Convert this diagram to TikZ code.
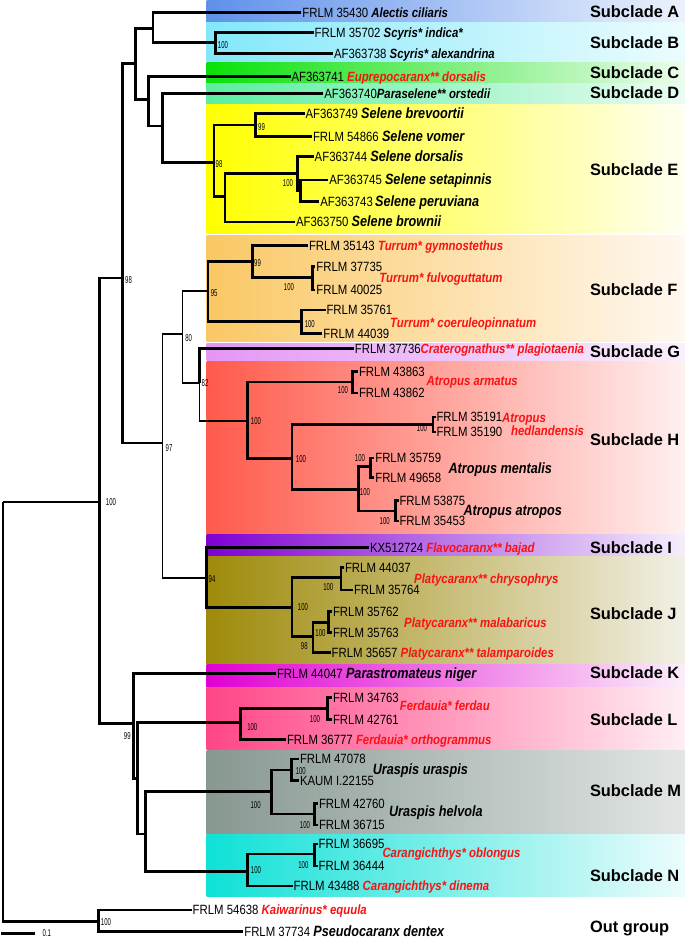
\documentclass[tikz,border=0pt]{standalone}
\usepackage{fontspec}
\setmainfont{Liberation Sans}
\newfontfamily\accf[FakeStretch=0.85]{Liberation Sans}
\newfontfamily\bsf[FakeStretch=0.6]{Liberation Sans}
\newfontfamily\subf{Liberation Sans}
\definecolor{spred}{RGB}{250,18,18}
\definecolor{bAl}{RGB}{95,145,235}\definecolor{bAr}{RGB}{236,241,252}
\definecolor{bBl}{RGB}{130,232,250}\definecolor{bBr}{RGB}{236,252,254}
\definecolor{bCl}{RGB}{10,225,10}\definecolor{bCr}{RGB}{236,252,236}
\definecolor{bDl}{RGB}{90,238,160}\definecolor{bDr}{RGB}{234,252,242}
\definecolor{bEl}{RGB}{255,255,0}\definecolor{bEr}{RGB}{255,255,242}
\definecolor{bFl}{RGB}{250,200,100}\definecolor{bFr}{RGB}{255,248,240}
\definecolor{bGl}{RGB}{228,150,245}\definecolor{bGr}{RGB}{250,240,252}
\definecolor{bHl}{RGB}{255,90,75}\definecolor{bHr}{RGB}{255,240,240}
\definecolor{bIl}{RGB}{128,0,210}\definecolor{bIr}{RGB}{245,238,252}
\definecolor{bJl}{RGB}{158,138,10}\definecolor{bJr}{RGB}{242,240,230}
\definecolor{bKl}{RGB}{225,0,210}\definecolor{bKr}{RGB}{252,238,250}
\definecolor{bLl}{RGB}{255,70,135}\definecolor{bLr}{RGB}{255,238,244}
\definecolor{bMl}{RGB}{135,152,145}\definecolor{bMr}{RGB}{226,230,228}
\definecolor{bNl}{RGB}{15,225,215}\definecolor{bNr}{RGB}{236,252,252}
\newcommand\spB[1]{{\bfseries\itshape #1}}
\newcommand\spL[1]{{\fontsize{14.9}{17}\selectfont\bfseries\itshape #1}}
\newcommand\spR[1]{{\color{spred}\bfseries\itshape #1}}
\tikzset{
  br/.style={line width=2.6pt},
  brthin/.style={line width=1.7pt},
  leaf/.style={anchor=west, inner sep=1pt, outer sep=0pt, font=\accf\fontsize{13.4}{15}\selectfont, text height=9.6pt, text depth=0pt},
  spec/.style={anchor=west, inner sep=0pt, font=\accf\fontsize{13.4}{15}\selectfont, text height=9.6pt, text depth=0pt},
  bs/.style={inner sep=0pt, font=\bsf\fontsize{10}{11}\selectfont, text height=7.1pt, text depth=0pt},
  sub/.style={anchor=west, inner sep=0pt, font=\subf\bfseries\fontsize{16.4}{18}\selectfont, text height=11.7pt, text depth=0pt},
}
\begin{document}
\begin{tikzpicture}[x=1pt,y=-1pt]
\useasboundingbox (0,0) rectangle (685,940);
% ---------- coloured bands ----------
\shade[left color=bAl,right color=bAr] (206.6,0) rectangle (685,22);
\shade[left color=bBl,right color=bBr] (206.6,22.5) rectangle (685,61);
\shade[left color=bCl,right color=bCr] (206.6,62) rectangle (685,83);
\shade[left color=bDl,right color=bDr] (206.6,83) rectangle (685,104);
\shade[left color=bEl,right color=bEr] (206.6,104) rectangle (685,233.5);
\shade[left color=bFl,right color=bFr] (206.6,235) rectangle (685,341.5);
\shade[left color=bGl,right color=bGr] (206.6,343) rectangle (685,360.3);
\shade[left color=bHl,right color=bHr] (206.6,361.5) rectangle (685,534);
\shade[left color=bIl,right color=bIr] (206.6,534) rectangle (685,556.5);
\shade[left color=bJl,right color=bJr] (206.6,556.5) rectangle (685,664);
\shade[left color=bKl,right color=bKr] (206.6,664) rectangle (685,687);
\shade[left color=bLl,right color=bLr] (206.6,687.5) rectangle (685,749);
\shade[left color=bMl,right color=bMr] (206.6,750) rectangle (685,834);
\shade[left color=bNl,right color=bNr] (206.6,834.5) rectangle (685,896.5);
% ---------- internal nodes ----------
\coordinate (R) at (3,502);
\coordinate (N100) at (99.6,502);
\coordinate (N98) at (122.3,278);
\coordinate (NAE) at (135.4,63.3);
\coordinate (NAB) at (152.9,28.3);
\coordinate (NB) at (215.4,42.7);
\coordinate (NCDE) at (148.5,99.3);
\coordinate (NDE) at (162.5,126);
\coordinate (NE) at (214,162.7);
\coordinate (NE99) at (255.6,125);
\coordinate (NE2) at (225,196.7);
\coordinate (NE100) at (297.5,173.3);
\coordinate (NE100b) at (300.5,190.8);
\coordinate (N97) at (162.5,443);
\coordinate (N80) at (182.6,334.3);
\coordinate (N95) at (207.8,291);
\coordinate (NF99) at (252.5,261.7);
\coordinate (Nfulvo) at (312.4,277.7);
\coordinate (Ncoer) at (301.4,321.7);
\coordinate (N82) at (199.4,382.7);
\coordinate (NH) at (247.7,420.7);
\coordinate (Narm) at (352.6,382);
\coordinate (NH2) at (291.8,458.3);
\coordinate (Nhed) at (432.8,424.5);
\coordinate (Nmat) at (358.2,489.3);
\coordinate (Nment) at (370.3,466.7);
\coordinate (Natr) at (395.4,511);
\coordinate (N94) at (206.6,577.7);
\coordinate (NJ) at (291.8,607.7);
\coordinate (Nchr) at (340.8,577.7);
\coordinate (NJ98) at (312.8,636.7);
\coordinate (Nmal) at (328.5,622.3);
\coordinate (N99) at (133.2,723.3);
\coordinate (NLMN) at (137.6,778.3);
\coordinate (NL) at (240.3,722.7);
\coordinate (Nfer) at (327.7,708.3);
\coordinate (NMN) at (145.5,834);
\coordinate (NM) at (271.7,791.7);
\coordinate (Nura) at (291.4,770);
\coordinate (Nhel) at (314.5,814);
\coordinate (NN) at (247.7,871.7);
\coordinate (Nobl) at (314.5,854);
\coordinate (OG) at (98.5,921.7);
% ---------- leaves ----------
\node[leaf] (alec) at (301.4,12.3) {FRLM 35430 \spB{Alectis ciliaris}};
\node[leaf] (scind) at (313.7,32.3) {FRLM 35702 \spB{Scyris* indica*}};
\node[leaf] (scalex) at (333,53.3) {AF363738 \spB{Scyris* alexandrina}};
\node[leaf] (eupr) at (290.5,76.7) {AF363741 \spR{Euprepocaranx** dorsalis}};
\node[leaf] (para) at (323.3,93.3) {AF363740\spB{Paraselene** orstedii}};
\node[leaf] (brev) at (304.5,113.5) {AF363749 \spL{Selene brevoortii}};
\node[leaf] (vomer) at (312,136.5) {FRLM 54866 \spL{Selene vomer}};
\node[leaf] (sdors) at (313.7,156.7) {AF363744 \spL{Selene dorsalis}};
\node[leaf] (setap) at (328.3,180) {AF363745 \spL{Selene setapinnis}};
\node[leaf] (peruv) at (319.3,201.7) {AF363743\,\spL{Selene peruviana}};
\node[leaf] (brown) at (295,222) {AF363750 \spL{Selene brownii}};
\node[leaf] (gymno) at (308,245.7) {FRLM 35143 \spR{Turrum* gymnostethus}};
\node[leaf] (f37735) at (315.4,266.7) {FRLM 37735};
\node[leaf] (f40025) at (315.4,290) {FRLM 40025};
\node[leaf] (f35761) at (325.5,310) {FRLM 35761};
\node[leaf] (f44039) at (322.4,333.3) {FRLM 44039};
\node[leaf] (crat) at (353.9,348.3) {FRLM 37736\spR{Craterognathus** plagiotaenia}};
\node[leaf] (h43863) at (358,371.7) {FRLM 43863};
\node[leaf] (h43862) at (358,393) {FRLM 43862};
\node[leaf] (h35191) at (435.5,417) {FRLM 35191};
\node[leaf] (h35190) at (435.5,432) {FRLM 35190};
\node[leaf] (h35759) at (374.3,458) {FRLM 35759};
\node[leaf] (h49658) at (374.3,477.5) {FRLM 49658};
\node[leaf] (h53875) at (398.5,500.7) {FRLM 53875};
\node[leaf] (h35453) at (398.5,521) {FRLM 35453};
\node[leaf] (bajad) at (369,547.3) {KX512724 \spR{Flavocaranx** bajad}};
\node[leaf] (j44037) at (344,567.7) {FRLM 44037};
\node[leaf] (j35764) at (353,590) {FRLM 35764};
\node[leaf] (j35762) at (332,611.7) {FRLM 35762};
\node[leaf] (j35763) at (332,632.7) {FRLM 35763};
\node[leaf] (j35657) at (330.7,652.7) {FRLM 35657 \spR{Platycaranx** talamparoides}};
\node[leaf] (niger) at (276,673.3) {FRLM 44047 \spL{Parastromateus niger}};
\node[leaf] (l34763) at (332,697.3) {FRLM 34763};
\node[leaf] (l42761) at (332,719.3) {FRLM 42761};
\node[leaf] (ortho) at (286,739.3) {FRLM 36777 \spR{Ferdauia* orthogrammus}};
\node[leaf] (m47078) at (299,759) {FRLM 47078};
\node[leaf] (mkaum) at (299,780.7) {KAUM I.22155};
\node[leaf] (m42760) at (318,803.3) {FRLM 42760};
\node[leaf] (m36715) at (318,825) {FRLM 36715};
\node[leaf] (n36695) at (317.6,844) {FRLM 36695};
\node[leaf] (n36444) at (317.6,866) {FRLM 36444};
\node[leaf] (dinema) at (292.7,886) {FRLM 43488 \spR{Carangichthys* dinema}};
\node[leaf] (kaiw) at (191.7,910) {FRLM 54638 \spR{Kaiwarinus* equula}};
\node[leaf] (pseudo) at (243.3,931.7) {FRLM 37734 \spL{Pseudocaranx dentex}};
% ---------- species names beside pairs ----------
\node[spec] (sfulvo) at (379.2,277.7) {\spR{Turrum* fulvoguttatum}};
\node[spec] (scoer) at (390,322.3) {\spR{Turrum* coeruleopinnatum}};
\node[spec] (sarm) at (426.5,381) {\spR{Atropus armatus}};
\node[spec] (shed1) at (502,418) {\spR{Atropus}};
\node[spec] (shed2) at (511,431) {\spR{hedlandensis}};
\node[spec] (sment) at (448.3,468.3) {\spL{Atropus mentalis}};
\node[spec] (satr) at (463.3,511) {\spL{Atropus atropos}};
\node[spec] (schr) at (414,578.3) {\spR{Platycaranx** chrysophrys}};
\node[spec] (smal) at (404,622.3) {\spR{Platycaranx** malabaricus}};
\node[spec] (sfer) at (399.7,706) {\spR{Ferdauia* ferdau}};
\node[spec] (sura) at (372.6,770) {\spL{Uraspis uraspis}};
\node[spec] (shel) at (388.8,811.7) {\spL{Uraspis helvola}};
\node[spec] (sobl) at (382.3,852.7) {\spR{Carangichthys* oblongus}};
% ---------- branches ----------
\draw[br] (R) -- (N100);
\draw[br] (R) |- (OG);
\foreach \p/\c in {N100/N98, N100/N99, N98/NAE, N98/N97, NAE/NAB, NAE/NCDE,
  NAB/alec, NAB/NB, NB/scind, NB/scalex, NCDE/eupr, NCDE/NDE, NDE/para, NDE/NE,
  NE/NE99, NE/NE2, NE99/brev, NE99/vomer, NE2/NE100, NE2/brown, NE100/sdors,
  NE100/NE100b, NE100b/setap, NE100b/peruv,
  N95/NF99, N95/Ncoer, NF99/gymno, NF99/Nfulvo, Nfulvo/f37735, Nfulvo/f40025,
  Ncoer/f35761, Ncoer/f44039, N82/crat,
  NH/Narm, NH/NH2, Narm/h43863, Narm/h43862, NH2/Nhed, NH2/Nmat, Nhed/h35191, Nhed/h35190,
  Nmat/Nment, Nmat/Natr, Nment/h35759, Nment/h49658, Natr/h53875, Natr/h35453,
  N94/bajad, N94/NJ, NJ/Nchr, NJ/NJ98, Nchr/j44037, Nchr/j35764, NJ98/Nmal, NJ98/j35657,
  Nmal/j35762, Nmal/j35763,
  N99/niger, N99/NLMN, NLMN/NL, NLMN/NMN, NL/Nfer, NL/ortho, Nfer/l34763, Nfer/l42761,
  NMN/NM, NMN/NN, NM/Nura, NM/Nhel, Nura/m47078, Nura/mkaum, Nhel/m42760, Nhel/m36715,
  NN/Nobl, NN/dinema, Nobl/n36695, Nobl/n36444, OG/kaiw, OG/pseudo}
  {\draw[br] (\p) |- (\c);}
\foreach \p/\c in {N97/N80, N97/N94, N80/N95, N80/N82, N82/NH}
  {\draw[brthin] (\p) |- (\c);}
% ---------- bootstrap values ----------
\node[bs] (b1) at (223,45) {100};
\node[bs] (b2) at (261.5,127.3) {99};
\node[bs] (b3) at (219,164.3) {98};
\node[bs] (b4) at (288,182.7) {100};
\node[bs] (b5) at (128.5,280) {98};
\node[bs] (b6) at (257.5,263.3) {99};
\node[bs] (b7) at (289,287.3) {100};
\node[bs] (b8) at (214.2,293.3) {95};
\node[bs] (b9) at (309.8,324) {100};
\node[bs] (b10) at (188.7,337.7) {80};
\node[bs] (b11) at (205,382.5) {82};
\node[bs] (b12) at (343,390) {100};
\node[bs] (b13) at (256,420.7) {100};
\node[bs] (b14) at (422,428.3) {100};
\node[bs] (b15) at (301,459.3) {100};
\node[bs] (b16) at (169,448.3) {97};
\node[bs] (b17) at (360,458.3) {100};
\node[bs] (b18) at (365,491.7) {100};
\node[bs] (b19) at (384.7,520.5) {100};
\node[bs] (b20) at (111,501.7) {100};
\node[bs] (b21) at (212,579.3) {94};
\node[bs] (b22) at (303,606.7) {100};
\node[bs] (b23) at (328.3,586.7) {100};
\node[bs] (b24) at (320.5,633.3) {100};
\node[bs] (b25) at (304.3,645.7) {98};
\node[bs] (b26) at (127.3,736) {99};
\node[bs] (b27) at (252.3,726.7) {100};
\node[bs] (b28) at (315,719.3) {100};
\node[bs] (b29) at (300.8,771) {100};
\node[bs] (b30) at (255.6,805) {100};
\node[bs] (b31) at (305,825) {100};
\node[bs] (b32) at (303.4,865) {100};
\node[bs] (b33) at (256,870) {100};
\node[bs] (b34) at (106,921.7) {100};
% ---------- scale bar ----------
\coordinate (sb1) at (1,933.3);
\coordinate (sb2) at (35,933.3);
\draw[br] (sb1) -- (sb2);
\node[bs, anchor=west] (sbl) at (42.5,932.5) {0.1};
% ---------- subclade labels ----------
\node[sub] (cA) at (589.8,12) {Subclade A};
\node[sub] (cB) at (589.8,42.7) {Subclade B};
\node[sub] (cC) at (589.8,72.5) {Subclade C};
\node[sub] (cD) at (589.8,92.5) {Subclade D};
\node[sub] (cE) at (589.8,169.3) {Subclade E};
\node[sub] (cF) at (589.8,289.3) {Subclade F};
\node[sub] (cG) at (589.8,351.5) {Subclade G};
\node[sub] (cH) at (589.8,439.3) {Subclade H};
\node[sub] (cI) at (589.8,547.3) {Subclade I};
\node[sub] (cJ) at (589.8,614) {Subclade J};
\node[sub] (cK) at (589.8,672.3) {Subclade K};
\node[sub] (cL) at (589.8,719.3) {Subclade L};
\node[sub] (cM) at (589.8,790.7) {Subclade M};
\node[sub] (cN) at (589.8,876) {Subclade N};
\node[sub] (cO) at (589.8,926.7) {Out group};
\end{tikzpicture}
\end{document}
